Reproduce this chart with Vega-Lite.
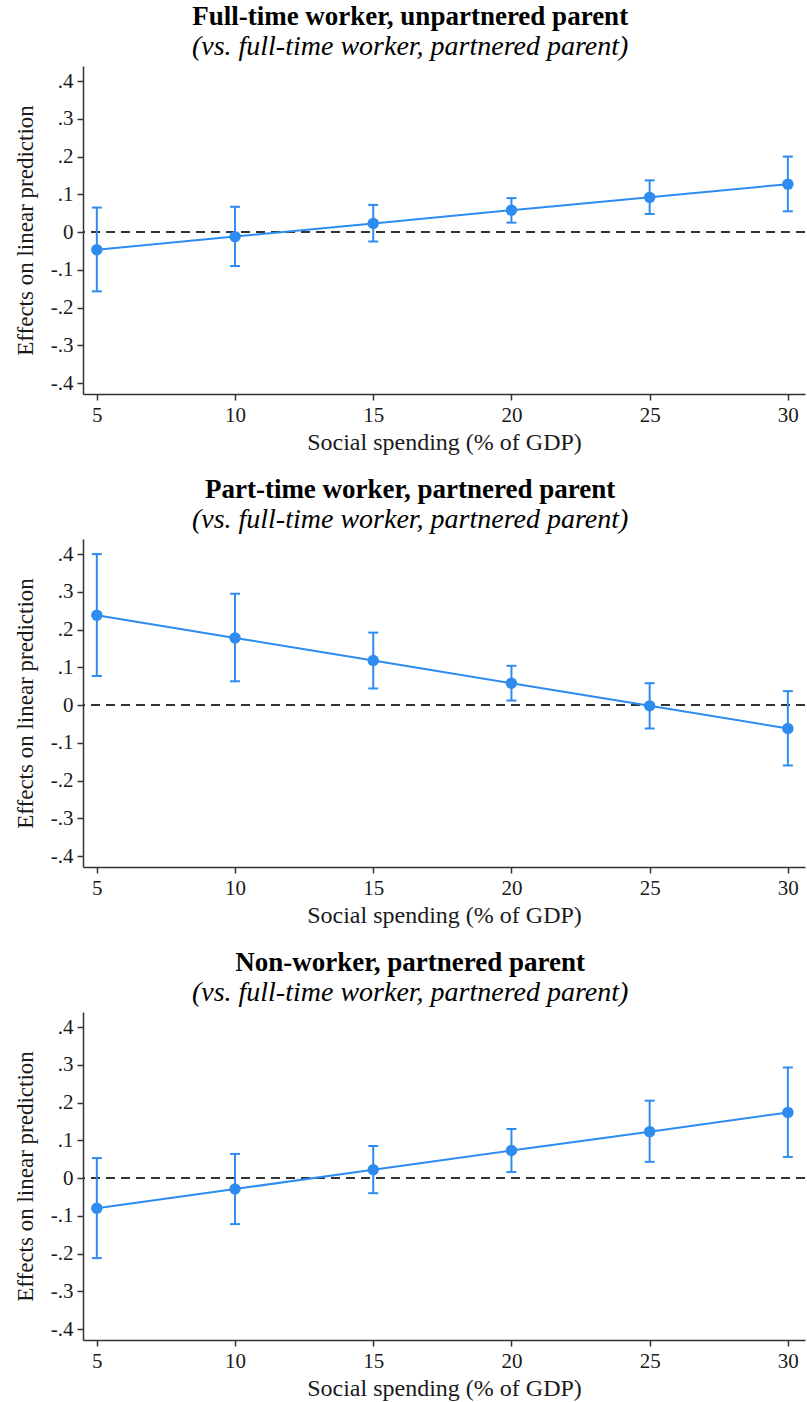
{
  "$schema": "https://vega.github.io/schema/vega-lite/v6.json",
  "padding": {"left": 14, "top": 3, "right": 2, "bottom": 2},
  "background": "white",
  "spacing": 22,
  "datasets": {
    "effects": [
      {"panel": 1, "x": 5, "est": -0.047, "lo": -0.157, "hi": 0.065},
      {"panel": 1, "x": 10, "est": -0.012, "lo": -0.090, "hi": 0.067},
      {"panel": 1, "x": 15, "est": 0.023, "lo": -0.025, "hi": 0.072},
      {"panel": 1, "x": 20, "est": 0.058, "lo": 0.025, "hi": 0.090},
      {"panel": 1, "x": 25, "est": 0.092, "lo": 0.048, "hi": 0.137},
      {"panel": 1, "x": 30, "est": 0.127, "lo": 0.055, "hi": 0.200},
      {"panel": 2, "x": 5, "est": 0.238, "lo": 0.077, "hi": 0.400},
      {"panel": 2, "x": 10, "est": 0.178, "lo": 0.063, "hi": 0.295},
      {"panel": 2, "x": 15, "est": 0.118, "lo": 0.044, "hi": 0.192},
      {"panel": 2, "x": 20, "est": 0.058, "lo": 0.012, "hi": 0.104},
      {"panel": 2, "x": 25, "est": -0.002, "lo": -0.062, "hi": 0.058},
      {"panel": 2, "x": 30, "est": -0.062, "lo": -0.160, "hi": 0.037},
      {"panel": 3, "x": 5, "est": -0.080, "lo": -0.212, "hi": 0.053},
      {"panel": 3, "x": 10, "est": -0.029, "lo": -0.122, "hi": 0.064},
      {"panel": 3, "x": 15, "est": 0.022, "lo": -0.040, "hi": 0.085},
      {"panel": 3, "x": 20, "est": 0.073, "lo": 0.016, "hi": 0.130},
      {"panel": 3, "x": 25, "est": 0.123, "lo": 0.043, "hi": 0.205},
      {"panel": 3, "x": 30, "est": 0.174, "lo": 0.056, "hi": 0.293}
    ]
  },
  "config": {
    "font": "Liberation Serif",
    "view": {"stroke": null},
    "axis": {
      "grid": false,
      "domainColor": "#333333",
      "tickColor": "#333333",
      "domainWidth": 1.5,
      "tickWidth": 1.5,
      "tickSize": 6,
      "labelColor": "#1a1a1a",
      "titleColor": "#1a1a1a",
      "labelFont": "Liberation Serif",
      "titleFont": "Liberation Serif",
      "labelFontSize": 21,
      "titleFontSize": 23,
      "titleFontWeight": "normal"
    },
    "title": {
      "font": "Liberation Serif",
      "subtitleFont": "Liberation Serif",
      "fontSize": 27,
      "subtitleFontSize": 28,
      "fontWeight": "bold",
      "subtitleFontStyle": "italic",
      "color": "#000000",
      "subtitleColor": "#000000",
      "anchor": "middle",
      "frame": "bounds",
      "offset": 4,
      "subtitlePadding": 2
    }
  },
  "vconcat": [
    {
      "title": {"text": "Full-time worker, unpartnered parent", "subtitle": "(vs. full-time worker, partnered parent)"},
      "width": 722,
      "height": 328,
      "data": {"name": "effects"},
      "transform": [{"filter": "datum.panel == 1"}],
      "encoding": {
        "x": {"field": "x", "type": "quantitative", "scale": {"domain": [4.5, 30.62], "nice": false, "zero": false},
          "axis": {"values": [5, 10, 15, 20, 25, 30], "title": "Social spending (% of GDP)", "labelPadding": 4, "titlePadding": 5, "titleFontSize": 24}}
      },
      "layer": [
        {"mark": {"type": "rule", "strokeDash": [9, 6], "strokeWidth": 2, "color": "#333333"},
          "encoding": {"x": null, "y": {"datum": 0, "type": "quantitative", "scale": {"domain": [-0.429, 0.44], "nice": false, "zero": false},
            "axis": {"values": [-0.4, -0.3, -0.2, -0.1, 0, 0.1, 0.2, 0.3, 0.4], "title": "Effects on linear prediction", "labelExpr": "datum.value == 0 ? '0' : (datum.value < 0 ? '-' : '') + replace(format(abs(datum.value), '.1f'), '0.', '.')", "labelPadding": 4, "titlePadding": 13}}}},
        {"mark": {"type": "rule", "strokeWidth": 2, "color": "#2e8cf0"},
          "encoding": {"y": {"field": "lo", "type": "quantitative"}, "y2": {"field": "hi"}}},
        {"mark": {"type": "tick", "orient": "horizontal", "size": 10, "thickness": 2, "color": "#2e8cf0", "opacity": 1},
          "encoding": {"y": {"field": "lo", "type": "quantitative"}}},
        {"mark": {"type": "tick", "orient": "horizontal", "size": 10, "thickness": 2, "color": "#2e8cf0", "opacity": 1},
          "encoding": {"y": {"field": "hi", "type": "quantitative"}}},
        {"mark": {"type": "line", "strokeWidth": 2, "color": "#2e8cf0"},
          "encoding": {"y": {"field": "est", "type": "quantitative"}}},
        {"mark": {"type": "point", "filled": true, "size": 130, "opacity": 1, "color": "#2e8cf0"},
          "encoding": {"y": {"field": "est", "type": "quantitative"}}}
      ],
      "resolve": {"axis": {"y": "shared"}}
    },
    {
      "title": {"text": "Part-time worker, partnered parent", "subtitle": "(vs. full-time worker, partnered parent)"},
      "width": 722,
      "height": 328,
      "data": {"name": "effects"},
      "transform": [{"filter": "datum.panel == 2"}],
      "encoding": {
        "x": {"field": "x", "type": "quantitative", "scale": {"domain": [4.5, 30.62], "nice": false, "zero": false},
          "axis": {"values": [5, 10, 15, 20, 25, 30], "title": "Social spending (% of GDP)", "labelPadding": 4, "titlePadding": 5, "titleFontSize": 24}}
      },
      "layer": [
        {"mark": {"type": "rule", "strokeDash": [9, 6], "strokeWidth": 2, "color": "#333333"},
          "encoding": {"x": null, "y": {"datum": 0, "type": "quantitative", "scale": {"domain": [-0.429, 0.44], "nice": false, "zero": false},
            "axis": {"values": [-0.4, -0.3, -0.2, -0.1, 0, 0.1, 0.2, 0.3, 0.4], "title": "Effects on linear prediction", "labelExpr": "datum.value == 0 ? '0' : (datum.value < 0 ? '-' : '') + replace(format(abs(datum.value), '.1f'), '0.', '.')", "labelPadding": 4, "titlePadding": 13}}}},
        {"mark": {"type": "rule", "strokeWidth": 2, "color": "#2e8cf0"},
          "encoding": {"y": {"field": "lo", "type": "quantitative"}, "y2": {"field": "hi"}}},
        {"mark": {"type": "tick", "orient": "horizontal", "size": 10, "thickness": 2, "color": "#2e8cf0", "opacity": 1},
          "encoding": {"y": {"field": "lo", "type": "quantitative"}}},
        {"mark": {"type": "tick", "orient": "horizontal", "size": 10, "thickness": 2, "color": "#2e8cf0", "opacity": 1},
          "encoding": {"y": {"field": "hi", "type": "quantitative"}}},
        {"mark": {"type": "line", "strokeWidth": 2, "color": "#2e8cf0"},
          "encoding": {"y": {"field": "est", "type": "quantitative"}}},
        {"mark": {"type": "point", "filled": true, "size": 130, "opacity": 1, "color": "#2e8cf0"},
          "encoding": {"y": {"field": "est", "type": "quantitative"}}}
      ],
      "resolve": {"axis": {"y": "shared"}}
    },
    {
      "title": {"text": "Non-worker, partnered parent", "subtitle": "(vs. full-time worker, partnered parent)"},
      "width": 722,
      "height": 328,
      "data": {"name": "effects"},
      "transform": [{"filter": "datum.panel == 3"}],
      "encoding": {
        "x": {"field": "x", "type": "quantitative", "scale": {"domain": [4.5, 30.62], "nice": false, "zero": false},
          "axis": {"values": [5, 10, 15, 20, 25, 30], "title": "Social spending (% of GDP)", "labelPadding": 4, "titlePadding": 5, "titleFontSize": 24}}
      },
      "layer": [
        {"mark": {"type": "rule", "strokeDash": [9, 6], "strokeWidth": 2, "color": "#333333"},
          "encoding": {"x": null, "y": {"datum": 0, "type": "quantitative", "scale": {"domain": [-0.429, 0.44], "nice": false, "zero": false},
            "axis": {"values": [-0.4, -0.3, -0.2, -0.1, 0, 0.1, 0.2, 0.3, 0.4], "title": "Effects on linear prediction", "labelExpr": "datum.value == 0 ? '0' : (datum.value < 0 ? '-' : '') + replace(format(abs(datum.value), '.1f'), '0.', '.')", "labelPadding": 4, "titlePadding": 13}}}},
        {"mark": {"type": "rule", "strokeWidth": 2, "color": "#2e8cf0"},
          "encoding": {"y": {"field": "lo", "type": "quantitative"}, "y2": {"field": "hi"}}},
        {"mark": {"type": "tick", "orient": "horizontal", "size": 10, "thickness": 2, "color": "#2e8cf0", "opacity": 1},
          "encoding": {"y": {"field": "lo", "type": "quantitative"}}},
        {"mark": {"type": "tick", "orient": "horizontal", "size": 10, "thickness": 2, "color": "#2e8cf0", "opacity": 1},
          "encoding": {"y": {"field": "hi", "type": "quantitative"}}},
        {"mark": {"type": "line", "strokeWidth": 2, "color": "#2e8cf0"},
          "encoding": {"y": {"field": "est", "type": "quantitative"}}},
        {"mark": {"type": "point", "filled": true, "size": 130, "opacity": 1, "color": "#2e8cf0"},
          "encoding": {"y": {"field": "est", "type": "quantitative"}}}
      ],
      "resolve": {"axis": {"y": "shared"}}
    }
  ]
}
